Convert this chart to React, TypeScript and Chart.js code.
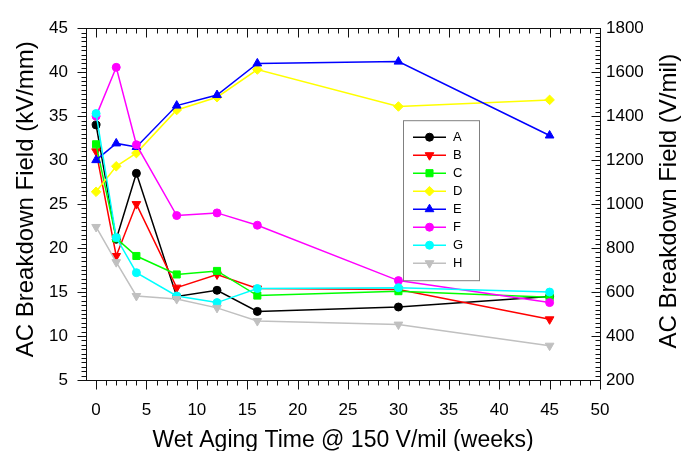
import React, { useEffect, useRef } from 'react';
import { Chart, registerables } from 'chart.js';
import { drawPoint } from 'chart.js/helpers';

Chart.register(...registerables);

// ---- data ----
const weeks = [0, 2, 4, 8, 12, 16, 30, 45];
const seriesNames = ['A', 'B', 'C', 'D', 'E', 'F', 'G', 'H'];
const seriesA = [34.0, 21.0, 28.5, 14.5, 15.2, 12.8, 13.3, 14.5];
const seriesB = [31.0, 19.1, 25.0, 15.5, 17.0, 15.4, 15.3, 11.9];
const seriesC = [31.8, 21.1, 19.1, 17.0, 17.4, 14.6, 15.1, 14.4];
const seriesD = [26.4, 29.3, 30.8, 35.7, 37.15, 40.3, 36.1, 36.85];
const seriesE = [30.0, 31.9, 31.5, 36.2, 37.4, 41.0, 41.2, 32.8];
const seriesF = [35.0, 40.55, 31.75, 23.7, 24.0, 22.6, 16.3, 13.8];
const seriesG = [35.3, 21.2, 17.2, 14.55, 13.8, 15.4, 15.5, 15.0];
const seriesH = [22.4, 18.4, 14.55, 14.2, 13.2, 11.7, 11.3, 8.9];

const xTicks = [0, 5, 10, 15, 20, 25, 30, 35, 40, 45, 50];
const yTicks = [5, 10, 15, 20, 25, 30, 35, 40, 45];
const y2Ticks = [200, 400, 600, 800, 1000, 1200, 1400, 1600, 1800];

const xTitle = 'Wet Aging Time @ 150 V/mil (weeks)';
const yTitle = 'AC Breakdown Field (kV/mm)';
const y2Title = 'AC Breakdown Field (V/mil)';

// ---- styles ----
const allSeries = [seriesA, seriesB, seriesC, seriesD, seriesE, seriesF, seriesG, seriesH];
const colors = ['#000000', '#ff0000', '#00ff00', '#ffff00', '#0000ff', '#ff00ff', '#00ffff', '#c0c0c0'];
const styles: { pointStyle: string; rotation: number; radius: number }[] = [
  { pointStyle: 'circle', rotation: 0, radius: 4 },
  { pointStyle: 'triangle', rotation: 180, radius: 5 },
  { pointStyle: 'rect', rotation: 0, radius: 5 },
  { pointStyle: 'rectRot', rotation: 0, radius: 4.8 },
  { pointStyle: 'triangle', rotation: 0, radius: 5 },
  { pointStyle: 'circle', rotation: 0, radius: 4 },
  { pointStyle: 'circle', rotation: 0, radius: 4 },
  { pointStyle: 'triangle', rotation: 180, radius: 5 },
];

const FONT = "'Liberation Sans', Arial, Helvetica, sans-serif";
const AXIS_COLOR = '#111111';

function seg(ctx: CanvasRenderingContext2D, x1: number, y1: number, x2: number, y2: number) {
  ctx.beginPath();
  ctx.moveTo(x1, y1);
  ctx.lineTo(x2, y2);
  ctx.stroke();
}

const decorPlugin = {
  id: 'decor',
  afterDraw(chart: any) {
    const ctx: CanvasRenderingContext2D = chart.ctx;
    const a = chart.chartArea;
    const sx = chart.scales.x, sy = chart.scales.y, sy2 = chart.scales.y2;
    ctx.save();
    ctx.setLineDash([]);
    ctx.globalAlpha = 1;
    ctx.strokeStyle = AXIS_COLOR;
    ctx.lineWidth = 1;
    const L = Math.round(a.left) + 0.5;
    const R = Math.round(a.right) + 0.5;
    const T = Math.round(a.top) + 0.5;
    const B = Math.round(a.bottom) + 0.5;
    ctx.strokeRect(L, T, R - L, B - T);
    for (let v = 0; v <= 50; v += 1) {
      const px = Math.round(sx.getPixelForValue(v)) + 0.5;
      const len = v % 5 === 0 ? 9 : 5;
      seg(ctx, px, B, px, B + len);
      seg(ctx, px, T, px, T + len);
    }
    for (let i = 0; i <= 80; i++) {
      const py = Math.round(sy.getPixelForValue(5 + i * 0.5)) + 0.5;
      const len = i % 10 === 0 ? 9 : 5;
      seg(ctx, L, py, L - len, py);
    }
    for (let i = 0; i <= 80; i++) {
      const py = Math.round(sy2.getPixelForValue(200 + i * 20)) + 0.5;
      const len = i % 10 === 0 ? 9 : 5;
      seg(ctx, R, py, R - len, py);
    }

    // axis titles
    ctx.fillStyle = '#000';
    ctx.font = `23px ${FONT}`;
    ctx.textAlign = 'center';
    ctx.textBaseline = 'alphabetic';
    ctx.fillText(xTitle, (a.left + a.right) / 2, 447);
    ctx.font = `24px ${FONT}`;
    ctx.save();
    ctx.translate(33, a.top + 171);
    ctx.rotate(-Math.PI / 2);
    ctx.fillText(yTitle, 0, 0);
    ctx.restore();
    ctx.save();
    ctx.translate(676, a.top + 173);
    ctx.rotate(-Math.PI / 2);
    ctx.fillText(y2Title, 0, 0);
    ctx.restore();

    // legend
    const lx = a.left + 317;
    const ly = a.top + 92;
    const lw = 76;
    const lh = 160;
    ctx.fillStyle = '#ffffff';
    ctx.fillRect(lx, ly, lw, lh);
    ctx.strokeStyle = '#808080';
    ctx.lineWidth = 1;
    ctx.strokeRect(lx + 0.5, ly + 0.5, lw, lh);
    ctx.font = `13px ${FONT}`;
    ctx.textAlign = 'left';
    ctx.textBaseline = 'middle';
    seriesNames.forEach((name, i) => {
      const yy = ly + 17 + 18 * i;
      ctx.strokeStyle = colors[i];
      ctx.fillStyle = colors[i];
      ctx.lineWidth = 1.5;
      seg(ctx, lx + 10, yy, lx + 43, yy);
      ctx.lineWidth = 1;
      drawPoint(ctx, { ...styles[i], borderWidth: 1 } as any, lx + 26.5, yy);
      ctx.fillStyle = '#000';
      ctx.fillText(name, lx + 50, yy + 0.5);
    });
    ctx.restore();
  },
};

export default function App() {
  const ref = useRef<HTMLCanvasElement | null>(null);
  useEffect(() => {
    if (!ref.current) return;
    const tickFont = { family: FONT, size: 17 };
    const fmt = (v: any) => String(v);
    const chart = new Chart(ref.current, {
      type: 'line',
      data: {
        datasets: allSeries.map((s, i) => ({
          label: seriesNames[i],
          data: weeks.map((w, j) => ({ x: w, y: s[j] })),
          borderColor: colors[i],
          backgroundColor: colors[i],
          pointBackgroundColor: colors[i],
          pointBorderColor: colors[i],
          borderWidth: 1.5,
          pointBorderWidth: 1,
          pointStyle: styles[i].pointStyle as any,
          pointRotation: styles[i].rotation,
          pointRadius: styles[i].radius,
          tension: 0,
          fill: false,
          order: 8 - i,
          yAxisID: 'y',
        })),
      },
      options: {
        animation: false,
        responsive: false,
        layout: { padding: { top: 20, left: 0, right: 0, bottom: 0 } },
        plugins: { legend: { display: false }, tooltip: { enabled: false } },
        scales: {
          x: {
            type: 'linear',
            position: 'bottom',
            min: -1,
            max: 50,
            grid: { display: false, drawTicks: false },
            border: { display: true, color: AXIS_COLOR, width: 1 },
            ticks: { font: tickFont, color: '#000', padding: 20, autoSkip: false, maxRotation: 0, callback: fmt },
            afterBuildTicks: (s: any) => { s.ticks = xTicks.map((v) => ({ value: v })); },
            afterFit: (s: any) => { s.height = 71; },
          },
          y: {
            type: 'linear',
            position: 'left',
            min: 5,
            max: 45,
            grid: { display: false, drawTicks: false },
            border: { display: true, color: AXIS_COLOR, width: 1 },
            ticks: { font: tickFont, color: '#000', padding: 18, autoSkip: false, callback: fmt },
            afterBuildTicks: (s: any) => { s.ticks = yTicks.map((v) => ({ value: v })); },
            afterFit: (s: any) => { s.width = 86; },
          },
          y2: {
            type: 'linear',
            position: 'right',
            min: 200,
            max: 1800,
            grid: { display: false, drawTicks: false },
            border: { display: true, color: AXIS_COLOR, width: 1 },
            ticks: { font: tickFont, color: '#000', padding: 6, autoSkip: false, callback: fmt },
            afterBuildTicks: (s: any) => { s.ticks = y2Ticks.map((v) => ({ value: v })); },
            afterFit: (s: any) => { s.width = 81; },
          },
        },
      },
      plugins: [decorPlugin],
    } as any);
    return () => chart.destroy();
  }, []);
  return (
    <div style={{ position: 'absolute', left: 0, top: 0, width: 681, height: 451, background: '#fff' }}>
      <canvas ref={ref} width={681} height={451} />
    </div>
  );
}
